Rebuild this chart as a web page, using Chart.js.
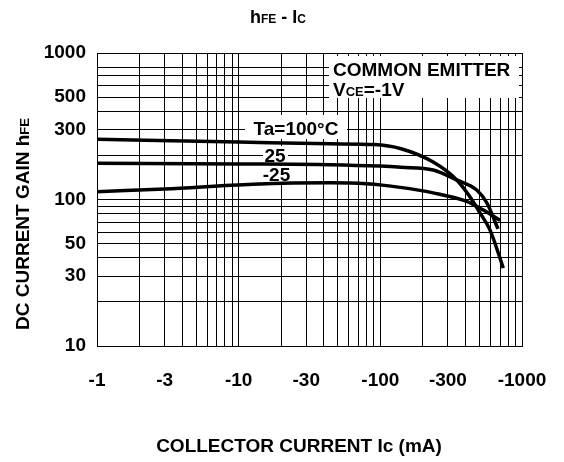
<!DOCTYPE html>
<html>
<head>
<meta charset="utf-8">
<script src="https://cdn.jsdelivr.net/npm/chart.js@4/dist/chart.umd.min.js"></script>
<style>
  body { margin: 0; background: #fff; }
  canvas { display: block; }
</style>
</head>
<body>
<canvas id="hfeChart" width="564" height="462"></canvas>
<script>
// collector current (mA, magnitude) and hFE for each temperature
const ic100 = [1, 10, 44, 90, 140, 236, 346, 430, 505, 594, 738];
const hfe100 = [258, 247, 240, 237, 222, 180, 136, 104, 81, 62, 34];
const ic25 = [1, 10, 44, 100, 140, 236, 346, 479, 564, 677];
const hfe25 = [177, 175, 173, 169, 166, 159, 136, 116, 95, 63];
const icM25 = [1, 3, 12.6, 44, 80, 138, 236, 407, 530, 700];
const hfeM25 = [113, 118, 127, 130, 128, 121, 111, 97, 85, 72];

// grid lines and labelled ticks
const xGrid = [1, 2, 3, 4, 5, 6, 7, 8, 9, 10, 20, 30, 40, 50, 60, 70, 80, 90,
  100, 200, 300, 400, 500, 600, 700, 800, 900, 1000];
const xLabels = [1, 3, 10, 30, 100, 300, 1000];
const yGrid = [10, 20, 30, 40, 50, 60, 70, 80, 90, 100, 200, 300, 400, 500, 600, 700, 800, 1000];
const yLabels = [10, 30, 50, 100, 300, 500, 1000];

const FONT = '"Liberation Sans", Arial, sans-serif';

let toPoints = (xs, ys) => xs.map((x, i) => ({ x: x, y: ys[i] }));

// draws text made of pieces with different sizes, all on one baseline
let drawParts = (ctx, parts, x, y, align) => {
  let widths = parts.map(p => {
    ctx.font = 'bold ' + p[1] + 'px ' + FONT;
    return ctx.measureText(p[0]).width;
  });
  let total = widths.reduce((a, b) => a + b, 0);
  let cx = align === 'center' ? x - total / 2 : x;
  ctx.textAlign = 'left';
  ctx.textBaseline = 'alphabetic';
  parts.forEach((p, i) => {
    ctx.font = 'bold ' + p[1] + 'px ' + FONT;
    ctx.fillText(p[0], cx, y);
    cx += widths[i];
  });
};

let whiteBox = (ctx, x1, y1, x2, y2) => {
  ctx.fillStyle = '#fff';
  ctx.fillRect(x1, y1, x2 - x1, y2 - y1);
  ctx.fillStyle = '#000';
};

// labels inside the plot (drawn over the grid, under the curves)
const notesPlugin = {
  id: 'notes',
  beforeDatasetsDraw(chart) {
    const ctx = chart.ctx;
    ctx.save();
    whiteBox(ctx, 329, 56, 519, 98);
    drawParts(ctx, [['COMMON EMITTER', 19]], 333, 75.5, 'left');
    drawParts(ctx, [['V', 19], ['CE', 13], ['=-1V', 19]], 333, 96, 'left');

    whiteBox(ctx, 245, 115, 347, 139);
    drawParts(ctx, [['Ta=100°C', 19]], 296, 135, 'center');
    whiteBox(ctx, 263, 146, 288, 163);
    drawParts(ctx, [['25', 19]], 275, 162, 'center');
    whiteBox(ctx, 261, 166, 292, 182);
    drawParts(ctx, [['-25', 19]], 276.5, 180.5, 'center');
    ctx.restore();
  },
  afterDraw(chart) {
    const ctx = chart.ctx;
    ctx.save();
    ctx.fillStyle = '#000';
    // chart title
    drawParts(ctx, [['h', 18], ['FE', 12], [' - I', 18], ['C', 12]], 278, 23, 'center');
    // x axis title
    drawParts(ctx, [['COLLECTOR CURRENT Ic (mA)', 19]], 299, 451.5, 'center');
    // y axis title, rotated
    ctx.translate(28.5, 224);
    ctx.rotate(-Math.PI / 2);
    drawParts(ctx, [['DC CURRENT GAIN h', 19], ['FE', 13]], 0, 0, 'center');
    ctx.restore();
  }
};

let curve = (label, xs, ys) => ({
  label: label,
  data: toPoints(xs, ys),
  borderColor: '#000',
  borderWidth: 3.5,
  pointRadius: 0,
  fill: false,
  cubicInterpolationMode: 'monotone'
});

var ctx = document.getElementById('hfeChart');
var hfeChart = new Chart(ctx, {
  type: 'line',
  data: {
    datasets: [
      curve('Ta=100°C', ic100, hfe100),
      curve('25', ic25, hfe25),
      curve('-25', icM25, hfeM25)
    ]
  },
  options: {
    responsive: false,
    devicePixelRatio: 1,
    animation: false,
    layout: { padding: { top: 53, right: 42, left: 0, bottom: 0 } },
    plugins: {
      legend: { display: false },
      tooltip: { enabled: false },
      title: { display: false }
    },
    scales: {
      x: {
        type: 'logarithmic',
        min: 1,
        max: 1000,
        afterBuildTicks: (scale) => { scale.ticks = xGrid.map(v => ({ value: v })); },
        afterFit: (scale) => {
          scale.height = 116;
          // labels may stick out past the plot, keep the plot size fixed
          scale.paddingLeft = 0;
          scale.paddingRight = 0;
        },
        grid: { color: '#000', lineWidth: 1, drawTicks: false },
        border: { display: true, color: '#000', width: 1 },
        ticks: {
          autoSkip: false,
          maxRotation: 0,
          minRotation: 0,
          padding: 23,
          color: '#000',
          font: { family: FONT, size: 19, weight: 'bold' },
          callback: (v) => xLabels.includes(v) ? '-' + v : ''
        }
      },
      y: {
        type: 'logarithmic',
        min: 10,
        max: 1000,
        afterBuildTicks: (scale) => { scale.ticks = yGrid.map(v => ({ value: v })); },
        afterFit: (scale) => { scale.width = 97; },
        grid: { color: '#000', lineWidth: 1, drawTicks: false },
        border: { display: true, color: '#000', width: 1 },
        ticks: {
          autoSkip: false,
          padding: 11,
          color: '#000',
          font: { family: FONT, size: 19, weight: 'bold' },
          callback: (v) => yLabels.includes(v) ? String(v) : ''
        }
      }
    }
  },
  plugins: [notesPlugin]
});
</script>
</body>
</html>
